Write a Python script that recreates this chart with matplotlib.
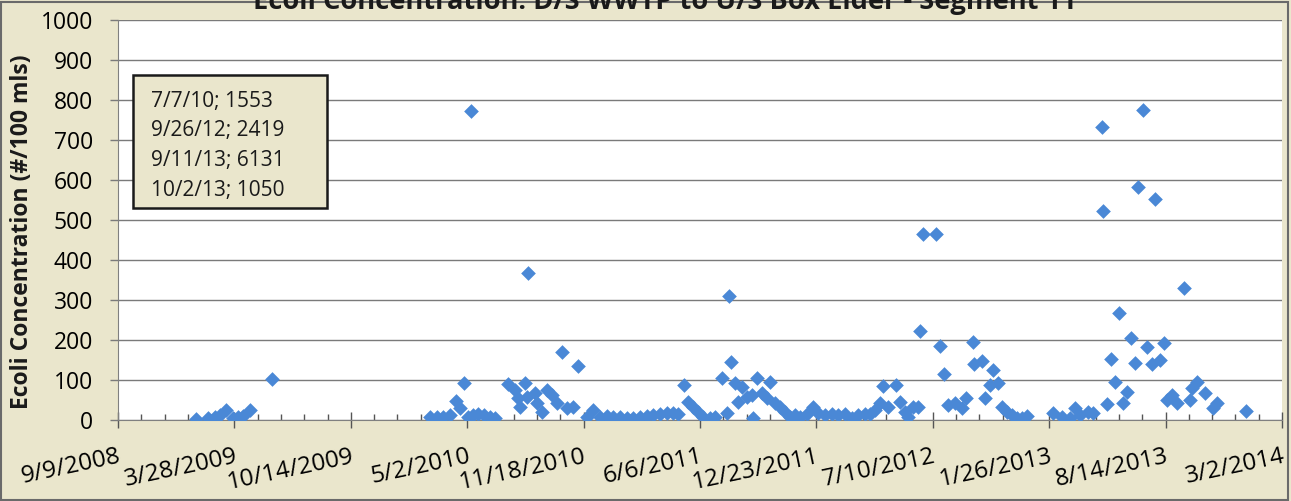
import matplotlib
matplotlib.use("Agg")
import matplotlib.pyplot as plt
import matplotlib.dates as mdates
from matplotlib.patches import Rectangle
from matplotlib.ticker import FixedLocator
import numpy as np
import pandas as pd

plt.rcParams["font.family"] = ["Open Sans", "DejaVu Sans"]

title = "Ecoli Concentration: D/S WWTP to U/S Box Elder - Segment 11"
y_label = "Ecoli Concentration (#/100 mls)"

# Sampling dates and E. coli results (#/100 mL)
sample_dates = [
    "2009-01-21", "2009-02-11", "2009-02-23", "2009-03-03", "2009-03-14",
    "2009-03-26", "2009-04-03", "2009-04-12", "2009-04-24", "2009-06-01",
    "2010-02-27", "2010-03-11", "2010-03-21", "2010-04-02", "2010-04-13",
    "2010-04-20", "2010-04-27", "2010-05-03", "2010-05-09", "2010-05-12",
    "2010-05-21", "2010-05-31", "2010-06-10", "2010-06-19", "2010-07-07",
    "2010-07-11", "2010-07-23", "2010-07-28", "2010-08-01", "2010-08-09",
    "2010-08-13", "2010-08-14", "2010-08-26", "2010-08-30", "2010-09-08",
    "2010-09-16", "2010-09-25", "2010-10-03", "2010-10-12", "2010-10-20",
    "2010-10-31", "2010-11-08", "2010-11-24", "2010-12-04", "2010-12-16",
    "2010-12-28", "2011-01-08", "2011-01-20", "2011-02-01", "2011-02-11",
    "2011-02-23", "2011-03-07", "2011-03-17", "2011-03-29", "2011-04-10",
    "2011-04-21", "2011-04-29", "2011-05-10", "2011-05-16", "2011-05-25",
    "2011-06-03", "2011-06-11", "2011-06-23", "2011-07-02", "2011-07-14",
    "2011-07-22", "2011-07-26", "2011-07-29", "2011-08-05", "2011-08-10",
    "2011-08-17", "2011-08-26", "2011-09-03", "2011-09-05", "2011-09-12",
    "2011-09-21", "2011-09-29", "2011-10-04", "2011-10-13", "2011-10-21",
    "2011-10-30", "2011-11-08", "2011-11-16", "2011-11-25", "2011-12-07",
    "2011-12-17", "2011-12-26", "2012-01-07", "2012-01-19", "2012-01-29",
    "2012-02-10", "2012-02-22", "2012-03-03", "2012-03-16", "2012-03-24",
    "2012-04-02", "2012-04-10", "2012-04-15", "2012-04-24", "2012-05-08",
    "2012-05-15", "2012-05-23", "2012-05-28", "2012-06-06", "2012-06-15",
    "2012-06-18", "2012-06-23", "2012-07-15", "2012-07-22", "2012-07-29",
    "2012-08-05", "2012-08-17", "2012-08-29", "2012-09-05", "2012-09-17",
    "2012-09-19", "2012-09-26", "2012-10-03", "2012-10-08", "2012-10-16",
    "2012-10-21", "2012-10-30", "2012-11-06", "2012-11-14", "2012-11-23",
    "2012-12-02", "2012-12-10", "2012-12-19", "2013-02-02", "2013-02-17",
    "2013-03-03", "2013-03-11", "2013-03-20", "2013-04-03", "2013-04-11",
    "2013-04-26", "2013-04-29", "2013-05-05", "2013-05-12", "2013-05-19",
    "2013-05-26", "2013-06-02", "2013-06-09", "2013-06-16", "2013-06-22",
    "2013-06-28", "2013-07-06", "2013-07-13", "2013-07-22", "2013-07-27",
    "2013-08-04", "2013-08-11", "2013-08-16", "2013-08-25", "2013-09-03",
    "2013-09-11", "2013-09-15", "2013-09-25", "2013-09-28", "2013-10-02",
    "2013-10-07", "2013-10-21", "2013-11-03", "2013-11-10", "2013-12-30",
]
ecoli = [
    2, 5, 8, 12, 25,
    5, 8, 10, 25, 103,
    7, 7, 8, 12, 47,
    30, 93, 7, 773, 12,
    15, 12, 8, 5, 1553,
    90, 75, 55, 33, 92,
    58, 367, 67, 42, 20,
    75, 62, 42, 170, 30,
    33, 135, 8, 25, 7,
    10, 7, 7, 5, 5,
    8, 10, 12, 15, 17,
    17, 15, 88, 45, 33,
    20, 7, 5, 7, 105,
    17, 310, 145, 93, 45,
    83, 58, 63, 5, 105,
    67, 55, 95, 42, 33,
    20, 7, 12, 7, 15,
    33, 17, 12, 15, 12,
    15, 5, 12, 15, 15,
    25, 42, 85, 33, 88,
    45, 20, 7, 33, 33,
    222, 465, 465, 186, 116,
    37, 42, 30, 55, 195,
    140, 2419, 148, 55, 88,
    125, 92, 33, 20, 12,
    5, 5, 10, 17, 7,
    5, 30, 12, 20, 17,
    732, 522, 40, 152, 95,
    267, 42, 70, 205, 142,
    583, 775, 183, 140, 552,
    150, 192, 50, 63, 42,
    6131, 330, 50, 80, 1050,
    95, 67, 30, 42, 22,
]

# Off-scale results listed in the note box
note_lines = ["7/7/10; 1553", "9/26/12; 2419", "9/11/13; 6131", "10/2/13; 1050"]

tick_labels = ["9/9/2008", "3/28/2009", "10/14/2009", "5/2/2010", "11/18/2010",
               "6/6/2011", "12/23/2011", "7/10/2012", "1/26/2013", "8/14/2013",
               "3/2/2014"]
y_ticks = [0, 100, 200, 300, 400, 500, 600, 700, 800, 900, 1000]

W, H = 1291, 501
bg = "#EAE6CC"
blue = "#4A88D6"
grid_c = "#7A7A7A"

fig = plt.figure(figsize=(W / 100, H / 100), dpi=100, facecolor=bg)

x0, x1, ytop, ybot = 118, 1282, 20, 420
ax = fig.add_axes([x0 / W, 1 - ybot / H, (x1 - x0) / W, (ybot - ytop) / H])
ax.set_facecolor("white")

dates = pd.to_datetime(sample_dates)
ax.scatter(dates, ecoli, marker="D", s=56, color=blue, linewidths=0, zorder=3)

tick_pos = pd.to_datetime(tick_labels, format="%m/%d/%Y")
ax.set_xlim(tick_pos[0], tick_pos[-1])
ax.set_ylim(0, 1000)

major = mdates.date2num(tick_pos)
ax.xaxis.set_major_locator(FixedLocator(major))
ax.xaxis.set_minor_locator(FixedLocator(np.arange(major[0], major[-1] + 1, 40)))
ax.set_xticklabels(tick_labels, rotation=12, ha="right", va="top",
                   rotation_mode="anchor", fontsize=17.5)
ax.tick_params(axis="x", which="major", direction="inout", length=11,
               width=1, color="#555555", pad=12)
ax.tick_params(axis="x", which="minor", direction="in", length=4,
               width=1, color="#555555")

ax.set_yticks(y_ticks)
ax.set_yticklabels([str(v) for v in y_ticks], fontsize=16.5)
ax.tick_params(axis="y", direction="out", length=6, width=1,
               color=grid_c, pad=12)
ax.yaxis.grid(True, color=grid_c, linewidth=1.0)
ax.set_axisbelow(True)

for side in ("top", "right"):
    ax.spines[side].set_visible(False)
ax.spines["left"].set_color("#808080")
ax.spines["bottom"].set_color("#808080")

fig.text(665 / W, 1 - 9 / H, title, ha="center", va="baseline",
         fontsize=19.6, fontweight="bold", color="#1a1a1a")
fig.text(22 / W, 1 - 232 / H, y_label, rotation=90, ha="center",
         va="center", fontsize=16.5, fontweight="bold", color="#1a1a1a")

# Note box with off-scale results
bx0, by0, bx1, by1 = 133, 75, 327, 208
fig.patches.append(Rectangle((bx0 / W, 1 - by1 / H), (bx1 - bx0) / W,
                             (by1 - by0) / H, transform=fig.transFigure,
                             facecolor=bg, edgecolor="#1a1a1a",
                             linewidth=1.8, zorder=5))
for i, line in enumerate(note_lines):
    fig.text(151 / W, 1 - (101 + 29.7 * i) / H, line, ha="left",
             va="center", fontsize=15, color="#1a1a1a", zorder=6)

# Chart frame
fig.patches.append(Rectangle((0.001, 0.002), 0.997, 0.995,
                             transform=fig.transFigure, fill=False,
                             edgecolor="#6a6a6a", linewidth=1.5))

fig.savefig("out.png", dpi=100, facecolor=bg)
